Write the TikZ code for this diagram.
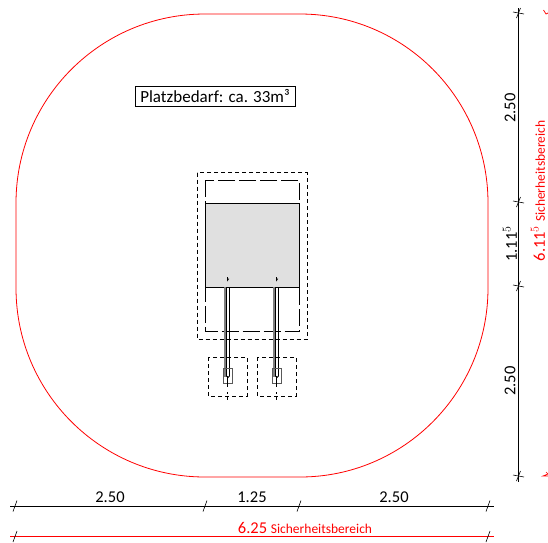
\documentclass[tikz,border=0pt]{standalone}
\usepackage{fontspec}
\setmainfont{Carlito}
\usepackage{tikz}
\usetikzlibrary{positioning, calc}
\definecolor{platzgrau}{gray}{0.88}
\tikzstyle{masslinie}=[line width=0.9pt]
\tikzstyle{massrot}=[line width=0.9pt,red]
\tikzstyle{masstext}=[inner sep=0pt,font=\fontsize{16.5}{16.5}\selectfont]
\tikzstyle{rottext}=[inner sep=0pt,text=red]
\tikzstyle{kurz}=[line width=0.8pt,dash pattern=on 4pt off 3pt]
\tikzstyle{lang}=[line width=0.9pt,dash pattern=on 17pt off 4pt]
\newcommand{\masskreuz}[1]{\draw[line width=0.6pt] ($(#1)+(-2,5.5)$) -- ($(#1)+(2,-5.5)$);}

\begin{document}
\begin{tikzpicture}[x=1pt,y=-1pt]
    \useasboundingbox (0,0) rectangle (548,542);
    % Sicherheitsbereich
    \draw [red,line width=0.8pt] (205,14) -- (300,14) arc (-90:0:188 and 189) -- (488,288)
      arc (0:90:188 and 189) -- (205,477) arc (90:180:189) -- (16,203) arc (180:270:189) -- cycle;
    \node [draw,line width=0.7pt,inner sep=0pt,minimum width=160pt,minimum height=20pt,
      font=\fontsize{17}{17}\selectfont] (platz) at (215,96) {Platzbedarf: ca. 33m³};
    % Geraet
    \draw [kurz] (197,172.5) rectangle (307,339);
    \draw [lang] (205,180) rectangle (299.5,331.5);
    \draw [fill=platzgrau,line width=1pt] (205,203) rectangle (299.5,287);
    \foreach \x in {227.5,276.5} {
      \draw [gray,line width=2.8pt] (\x-2.2,287) -- (\x-2.2,377);
      \draw [line width=0.8pt] (\x-1,287) -- (\x-1,376) arc (180:0:1.5) -- (\x+2,287);
      \draw [line width=1pt,black!65] (\x-4.5,368.5) rectangle (\x+4.5,383);
      \draw [line width=0.6pt] (\x,277) -- (\x,280.5) -- (\x+1.5,278.5);
      \draw [line width=0.6pt,dash pattern=on 11pt off 5pt on 2pt off 3pt] (\x,376) -- (\x,400);
      \draw [kurz] (\x-19.5,357) rectangle (\x+19.5,396);
    }
    % Masse rechts
    \draw [masslinie] (518.5,8) -- (518.5,482);
    \foreach \y in {13,202,286,476} {
      \draw [line width=0.6pt] (513,\y-1) -- (524,\y+1);
      \draw [line width=0.6pt] (516.5,\y+5) -- (520.5,\y-5);
    }
    \node [masstext,rotate=90] (hoch1) at (510,108) {2.50};
    \node [masstext,rotate=90] (hoch2) at (510,244) {1.11$^{\scriptstyle 5}$};
    \node [masstext,rotate=90] (hoch3) at (510,381) {2.50};
    \node [rottext,rotate=90] (sicherrechts) at (538,191)
      {\fontsize{16.5}{16.5}\selectfont 6.11$^{\scriptstyle 5}$ \fontsize{13.5}{13.5}\selectfont Sicherheitsbereich};
    \draw [red,line width=0.7pt] (543.5,10) -- (546,14) -- (548,13);
    \draw [red,line width=0.7pt] (546,472) -- (548,474) -- (543,476) -- (548,476);
    % Masse unten
    \draw [masslinie] (10,506) -- (494,506);
    \foreach \x in {15,205,299,488} {\masskreuz{\x,506}}
    \node [masstext] (breit1) at (110,497) {2.50};
    \node [masstext] (breit2) at (252,497) {1.25};
    \node [masstext] (breit3) at (394,497) {2.50};
    \draw [massrot] (10,536.5) -- (494,536.5);
    \foreach \x in {15,488} {\masskreuz{\x,536.5}}
    \node [rottext] (sicherunten) at (305,527.5)
      {\fontsize{16.5}{16.5}\selectfont 6.25 \fontsize{13.5}{13.5}\selectfont Sicherheitsbereich};
\end{tikzpicture}
\end{document}
